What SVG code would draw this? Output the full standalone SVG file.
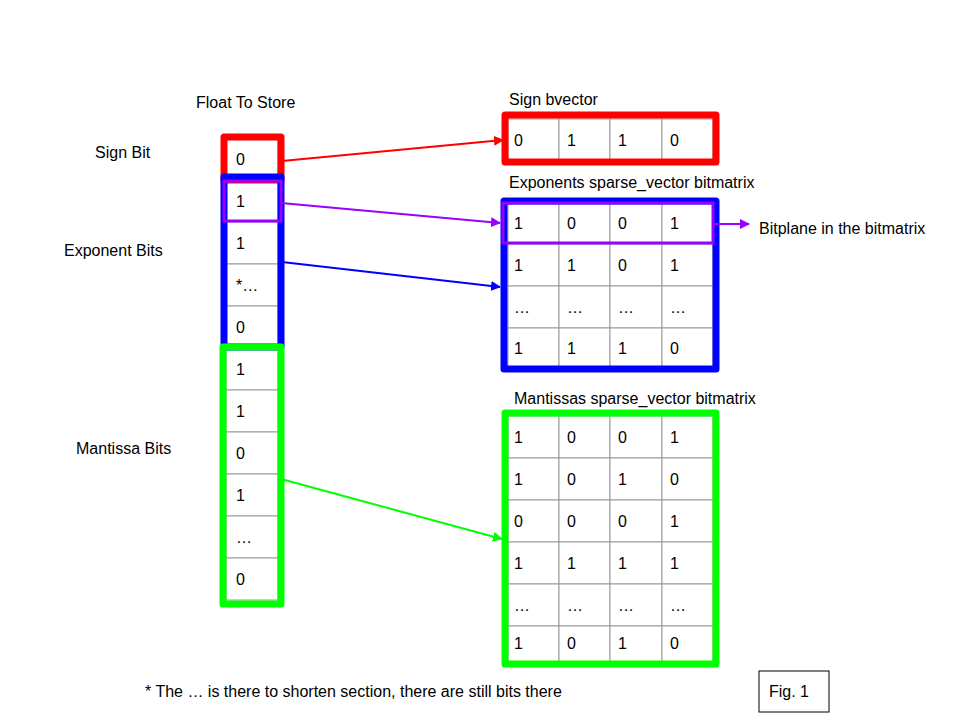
<svg xmlns="http://www.w3.org/2000/svg" width="960" height="720" viewBox="0 0 960 720">
<style>
text{font-family:"Liberation Sans",Arial,sans-serif;font-size:16px;fill:#000}
.c{fill:#fff;stroke:#999;stroke-width:1}
.b{fill:none;stroke-width:7;stroke-linejoin:round}
.a{fill:none;stroke-width:2}
</style>
<defs>
<marker id="mr" markerWidth="10" markerHeight="10" refX="9" refY="5" orient="auto" markerUnits="userSpaceOnUse"><path d="M0,0L10,5L0,10z" fill="#f00"/></marker>
<marker id="mp" markerWidth="10" markerHeight="10" refX="9" refY="5" orient="auto" markerUnits="userSpaceOnUse"><path d="M0,0L10,5L0,10z" fill="#90f"/></marker>
<marker id="mb" markerWidth="10" markerHeight="10" refX="9" refY="5" orient="auto" markerUnits="userSpaceOnUse"><path d="M0,0L10,5L0,10z" fill="#00f"/></marker>
<marker id="mg" markerWidth="10" markerHeight="10" refX="9" refY="5" orient="auto" markerUnits="userSpaceOnUse"><path d="M0,0L10,5L0,10z" fill="#0f0"/></marker>
</defs>
<rect width="960" height="720" fill="#fff"/>
<g id="labels">
<text x="196" y="108">Float To Store</text>
<text x="95" y="158">Sign Bit</text>
<text x="64" y="256">Exponent Bits</text>
<text x="76" y="454">Mantissa Bits</text>
<text x="509" y="105">Sign bvector</text>
<text x="509" y="188">Exponents sparse_vector bitmatrix</text>
<text x="514" y="404">Mantissas sparse_vector bitmatrix</text>
<text x="759" y="234">Bitplane in the bitmatrix</text>
<text x="145" y="697">* The … is there to shorten section, there are still bits there</text>
</g>
<g id="float">
<rect class="c" x="226" y="138" width="52" height="42"/><text x="236" y="165">0</text>
<rect class="c" x="226" y="180" width="52" height="42"/><text x="236" y="207">1</text>
<rect class="c" x="226" y="222" width="52" height="42"/><text x="236" y="249">1</text>
<rect class="c" x="226" y="264" width="52" height="42"/><text x="236" y="291">*…</text>
<rect class="c" x="226" y="306" width="52" height="42"/><text x="236" y="333">0</text>
<rect class="c" x="226" y="348" width="52" height="42"/><text x="236" y="375">1</text>
<rect class="c" x="226" y="390" width="52" height="42"/><text x="236" y="417">1</text>
<rect class="c" x="226" y="432" width="52" height="42"/><text x="236" y="459">0</text>
<rect class="c" x="226" y="474" width="52" height="42"/><text x="236" y="501">1</text>
<rect class="c" x="226" y="516" width="52" height="42"/><text x="236" y="543">…</text>
<rect class="c" x="226" y="558" width="52" height="42"/><text x="236" y="585">0</text>
<rect class="b" stroke="#f00" x="224" y="137" width="57" height="43"/>
<rect class="b" stroke="#00f" x="224" y="177" width="57" height="170"/>
<rect class="b" stroke="#0f0" x="223" y="347" width="58" height="257"/>
<rect fill="none" stroke="#90f" stroke-width="3" x="224" y="181" width="57" height="40"/>
</g>
<g id="sign">
<rect class="c" x="508" y="119" width="51" height="41"/><text x="514" y="146">0</text>
<rect class="c" x="559" y="119" width="51" height="41"/><text x="567" y="146">1</text>
<rect class="c" x="610" y="119" width="52" height="41"/><text x="618" y="146">1</text>
<rect class="c" x="662" y="119" width="51" height="41"/><text x="670" y="146">0</text>
<rect class="b" stroke="#f00" x="505" y="115" width="211" height="47"/>
</g>
<g id="exponents">
<g>
<rect class="c" x="508" y="202" width="51" height="42"/><rect class="c" x="559" y="202" width="51" height="42"/><rect class="c" x="610" y="202" width="52" height="42"/><rect class="c" x="662" y="202" width="51" height="42"/>
<rect class="c" x="508" y="244" width="51" height="42"/><rect class="c" x="559" y="244" width="51" height="42"/><rect class="c" x="610" y="244" width="52" height="42"/><rect class="c" x="662" y="244" width="51" height="42"/>
<rect class="c" x="508" y="286" width="51" height="42"/><rect class="c" x="559" y="286" width="51" height="42"/><rect class="c" x="610" y="286" width="52" height="42"/><rect class="c" x="662" y="286" width="51" height="42"/>
<rect class="c" x="508" y="328" width="51" height="41"/><rect class="c" x="559" y="328" width="51" height="41"/><rect class="c" x="610" y="328" width="52" height="41"/><rect class="c" x="662" y="328" width="51" height="41"/>
</g>
<text x="514" y="229">1</text><text x="567" y="229">0</text><text x="618" y="229">0</text><text x="670" y="229">1</text>
<text x="514" y="271">1</text><text x="567" y="271">1</text><text x="618" y="271">0</text><text x="670" y="271">1</text>
<text x="514" y="313">…</text><text x="567" y="313">…</text><text x="618" y="313">…</text><text x="670" y="313">…</text>
<text x="514" y="354">1</text><text x="567" y="354">1</text><text x="618" y="354">1</text><text x="670" y="354">0</text>
<rect class="b" stroke="#00f" x="504" y="201" width="212" height="168"/>
<rect fill="none" stroke="#90f" stroke-width="3" x="503" y="203" width="210" height="40"/>
</g>
<g id="mantissas">
<g>
<rect class="c" x="508" y="416" width="51" height="42"/><rect class="c" x="559" y="416" width="51" height="42"/><rect class="c" x="610" y="416" width="52" height="42"/><rect class="c" x="662" y="416" width="51" height="42"/>
<rect class="c" x="508" y="458" width="51" height="42"/><rect class="c" x="559" y="458" width="51" height="42"/><rect class="c" x="610" y="458" width="52" height="42"/><rect class="c" x="662" y="458" width="51" height="42"/>
<rect class="c" x="508" y="500" width="51" height="42"/><rect class="c" x="559" y="500" width="51" height="42"/><rect class="c" x="610" y="500" width="52" height="42"/><rect class="c" x="662" y="500" width="51" height="42"/>
<rect class="c" x="508" y="542" width="51" height="42"/><rect class="c" x="559" y="542" width="51" height="42"/><rect class="c" x="610" y="542" width="52" height="42"/><rect class="c" x="662" y="542" width="51" height="42"/>
<rect class="c" x="508" y="584" width="51" height="42"/><rect class="c" x="559" y="584" width="51" height="42"/><rect class="c" x="610" y="584" width="52" height="42"/><rect class="c" x="662" y="584" width="51" height="42"/>
<rect class="c" x="508" y="626" width="51" height="36"/><rect class="c" x="559" y="626" width="51" height="36"/><rect class="c" x="610" y="626" width="52" height="36"/><rect class="c" x="662" y="626" width="51" height="36"/>
</g>
<text x="514" y="443">1</text><text x="567" y="443">0</text><text x="618" y="443">0</text><text x="670" y="443">1</text>
<text x="514" y="485">1</text><text x="567" y="485">0</text><text x="618" y="485">1</text><text x="670" y="485">0</text>
<text x="514" y="527">0</text><text x="567" y="527">0</text><text x="618" y="527">0</text><text x="670" y="527">1</text>
<text x="514" y="569">1</text><text x="567" y="569">1</text><text x="618" y="569">1</text><text x="670" y="569">1</text>
<text x="514" y="611">…</text><text x="567" y="611">…</text><text x="618" y="611">…</text><text x="670" y="611">…</text>
<text x="514" y="649">1</text><text x="567" y="649">0</text><text x="618" y="649">1</text><text x="670" y="649">0</text>
<rect class="b" stroke="#0f0" x="505" y="413" width="211" height="251"/>
</g>
<g id="fig">
<rect x="759" y="671" width="70" height="41" fill="#fff" stroke="#000" stroke-width="1"/>
<text x="769" y="697">Fig. 1</text>
</g>
<g id="connectors">
<line class="a" stroke="#f00" x1="282" y1="161" x2="503" y2="140" marker-end="url(#mr)"/>
<line class="a" stroke="#90f" x1="281" y1="203" x2="500" y2="223" marker-end="url(#mp)"/>
<line class="a" stroke="#90f" x1="713" y1="224" x2="749" y2="224" marker-end="url(#mp)"/>
<line class="a" stroke="#00f" x1="282" y1="262" x2="500" y2="287" marker-end="url(#mb)"/>
<line class="a" stroke="#0f0" x1="281" y1="479" x2="502" y2="539" marker-end="url(#mg)"/>
</g>
</svg>
